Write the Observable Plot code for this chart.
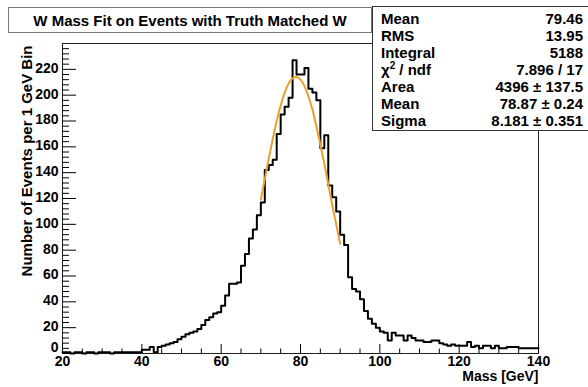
<!DOCTYPE html>
<html><head><meta charset="utf-8">
<script src="https://cdn.jsdelivr.net/npm/d3@7"></script>
<script src="https://cdn.jsdelivr.net/npm/@observablehq/plot@0.6"></script>
<style>
body{margin:0;background:#fff;}
#wrap{position:relative;width:588px;height:387px;overflow:hidden;font-family:"Liberation Sans",Arial,sans-serif;color:#000;}
#wrap svg{position:absolute;left:0;top:0;}
#title{position:absolute;left:8px;top:7px;width:364px;height:26px;border:1px solid #777;background:#fff;font-weight:bold;font-size:15px;display:flex;align-items:center;justify-content:center;box-sizing:border-box;}
#stats{position:absolute;left:372px;top:6px;width:222px;height:125px;border:1px solid #333;background:#fff;box-sizing:border-box;font-weight:bold;font-size:15px;}
.row{position:absolute;left:8px;right:10px;height:17px;display:flex;justify-content:space-between;align-items:center;white-space:nowrap;}
sup{font-size:10px;line-height:0;}
</style></head><body>
<div id="wrap"><div id="title"></div><div id="stats"></div></div>
<script>
const titleText = "W Mass Fit on Events with Truth Matched W";
const xLabel = "Mass [GeV]";
const yLabel = "Number of Events per 1 GeV Bin";
const firstBin = 20; // low edge of first 1 GeV bin
const counts = [
  1,1,0,1,1,0,1,1,0,1,1,1,0,1,1,1,1,1,1,1,
  3,3,5,1,5,6,7,8,9,11,13,15,16,17,19,22,26,28,31,32,
  37,45,54,54,55,68,77,89,96,107,117,142,146,150,170,185,191,198,227,216,
  216,221,205,202,196,159,169,130,121,110,92,84,59,50,48,42,33,27,23,20,
  17,16,10,16,14,14,10,14,12,10,10,9,9,10,10,8,7,6,7,6,
  6,6,9,5,6,4,6,6,4,6,4,4,5,5,5,4,4,4,4,4
];
const fitMass = [70,71,72,73,74,75,76,77,78,79,80,81,82,83,84,85,86,87,88,89,90];
const fitValues = [119,135,151,166,180,192,202,209,213,214,212,207,199,189,176,162,147,131,115,100,85];
const xTicks = [20,40,60,80,100,120,140];
const xMinor = [25,30,35,45,50,55,65,70,75,85,90,95,105,110,115,125,130,135];
const yTicks = [0,20,40,60,80,100,120,140,160,180,200,220];
const yMinor = d3.range(0,241,4).filter(v => v % 20 !== 0);
const statNames = ["Mean","RMS","Integral","χ<sup>2</sup> / ndf","Area","Mean","Sigma"];
const statValues = ["79.46","13.95","5188","7.896 / 17","4396 ± 137.5","78.87 ± 0.24","8.181 ± 0.351"];

const hist = counts.map((c,i) => ({x: firstBin + i, y: c}));
hist.push({x: firstBin + counts.length, y: counts[counts.length-1]});
const fit = fitMass.map((m,i) => ({x: m, y: fitValues[i]}));

const chart = Plot.plot({
  width: 588, height: 387,
  marginLeft: 62, marginRight: 50, marginTop: 43, marginBottom: 34,
  style: {fontFamily: "'Liberation Sans', Arial, sans-serif", fontSize: "14px", color: "#000", background: "#fff"},
  x: {domain: [20,140]},
  y: {domain: [0,240]},
  marks: [
    Plot.frame({stroke: "#222"}),
    Plot.axisX(xTicks, {tickSize: 0, tickPadding: 3, fontSize: 14, fontWeight: "bold", label: null}),
    Plot.axisX(xTicks, {tickSize: 9, dy: -9, fill: "none", label: null}),
    Plot.axisX(xMinor, {tickSize: 4.5, dy: -4.5, fill: "none", label: null}),
    Plot.axisY(yTicks.filter(v => v !== 0), {tickSize: 0, tickPadding: 4, dy: -1, fontSize: 14, fontWeight: "bold", label: null}),
    Plot.axisY(yTicks.filter(v => v === 0), {tickSize: 0, tickPadding: 4, dy: -6, fontSize: 14, fontWeight: "bold", label: null}),
    Plot.axisY(yTicks, {tickSize: 14, dx: 14, fill: "none", label: null}),
    Plot.axisY(yMinor, {tickSize: 7, dx: 7, fill: "none", label: null}),
    Plot.line(hist, {x: "x", y: "y", curve: "step-after", stroke: "#000", strokeWidth: 2}),
    Plot.line(fit, {x: "x", y: "y", curve: "natural", stroke: "#eb9f2e", strokeWidth: 2}),
    Plot.text([xLabel], {text: d => d, frameAnchor: "bottom-right", dy: 27, textAnchor: "end", fontSize: 14, fontWeight: "bold"}),
    Plot.text([yLabel], {text: d => d, frameAnchor: "top-left", rotate: -90, textAnchor: "end", dx: -41, dy: 2, fontSize: 15, fontWeight: "bold"})
  ]
});
document.getElementById("wrap").prepend(chart);
document.getElementById("title").textContent = titleText;
const stats = document.getElementById("stats");
statNames.forEach((n,i) => {
  const row = document.createElement("div");
  row.className = "row";
  row.style.top = (3 + i*17) + "px";
  row.innerHTML = `<span>${n}</span><span>${statValues[i]}</span>`;
  stats.appendChild(row);
});
</script>
</body></html>
